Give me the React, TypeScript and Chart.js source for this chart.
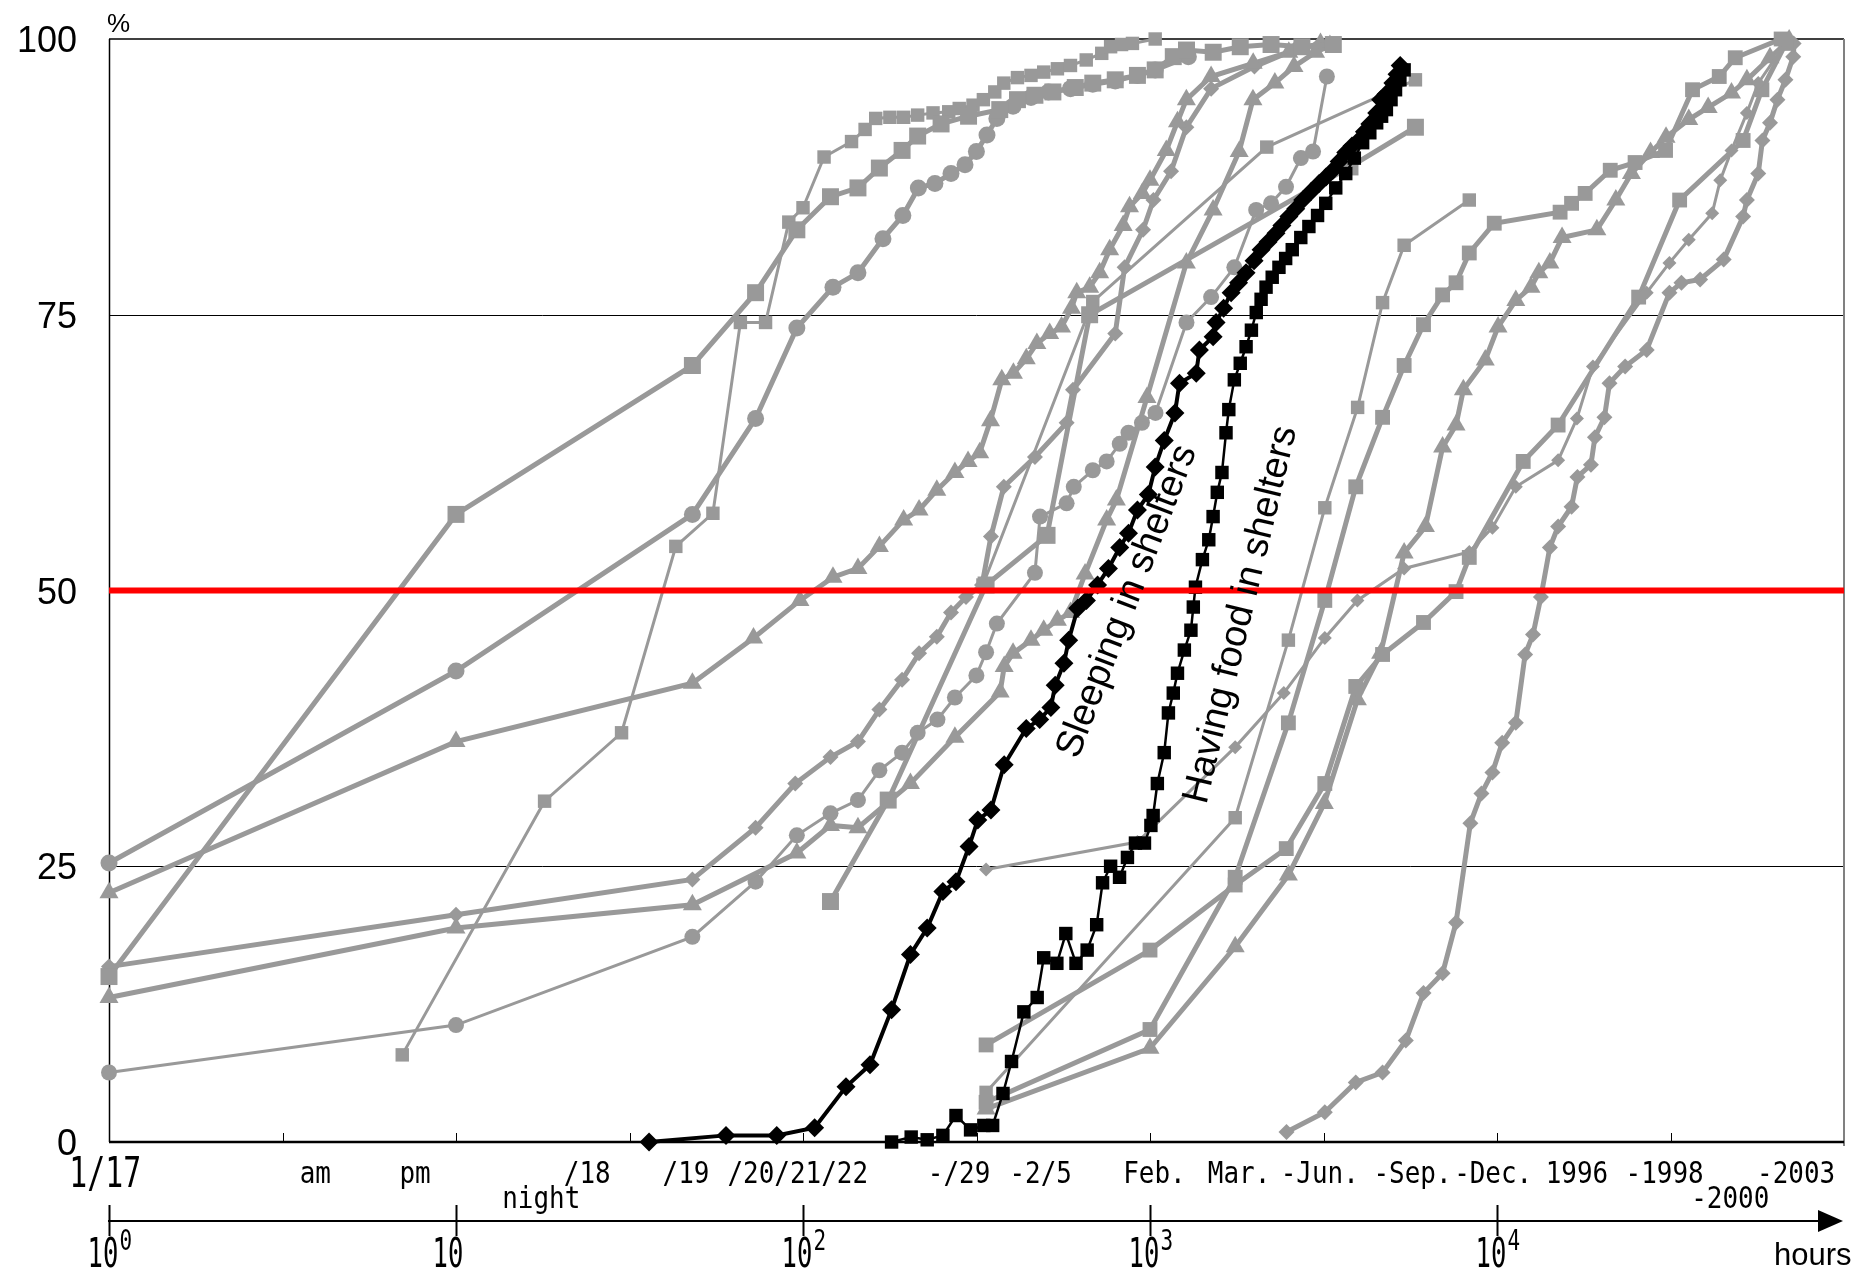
import React, { useEffect, useRef } from 'react';
import { Chart, registerables } from 'chart.js';

Chart.register(...registerables);

const W = 1856;
const H = 1275;

// ---------------- data: [hours, percent] ----------------
const sleepingInShelters: [number, number][] = [
  [36, 0], [60, 0.6], [84, 0.6], [108, 1.3], [133, 5.0], [156, 7.0], [180, 12.0], [204, 17.0],
  [228, 19.4], [253, 22.7], [276, 23.6], [301, 26.8], [319, 29.2], [348, 30.1], [380, 34.2],
  [440, 37.5], [481, 38.3], [518, 39.4], [533, 41.4], [565, 43.4], [583, 45.5], [619, 48.4],
  [656, 49.1], [706, 50.5], [759, 52.0], [818, 53.9], [867, 55.2], [920, 57.3], [989, 58.7],
  [1035, 61.2], [1099, 63.6], [1180, 66.1], [1216, 68.8], [1359, 69.7], [1388, 71.8], [1520, 73.0],
  [1550, 74.3], [1630, 75.6], [1713, 77.0], [1800, 77.9], [1892, 78.8], [1995, 79.9], [2090, 80.9],
  [2188, 81.6], [2307, 82.4], [2399, 83.1], [2513, 83.9], [2630, 84.6], [2754, 85.4], [2917, 86.2],
  [3070, 86.9], [3215, 87.5], [3365, 88.1], [3508, 88.9], [3665, 89.7], [3820, 90.3], [3990, 90.8],
  [4150, 91.6], [4300, 92.3], [4500, 93.3], [4620, 94.5], [4786, 95.0], [5010, 96.0], [5150, 96.8],
  [5260, 97.6],
];

const havingFoodInShelters: [number, number][] = [
  [180, 0], [205, 0.45], [228, 0.2], [253, 0.6], [276, 2.4], [304, 1.1], [332, 1.5], [352, 1.5],
  [377, 4.4], [399, 7.3], [433, 11.8], [473, 13.1], [494, 16.7], [539, 16.2], [572, 18.9],
  [612, 16.2], [659, 17.4], [702, 19.7], [730, 23.5], [770, 25.0], [817, 24.0], [861, 25.8],
  [908, 27.1], [964, 27.1], [1006, 28.7], [1021, 29.6], [1050, 32.5], [1099, 35.3], [1130, 38.9],
  [1167, 40.7], [1200, 42.5], [1256, 44.6], [1312, 46.4], [1333, 48.5], [1352, 50.3], [1416, 52.8],
  [1477, 54.6], [1520, 56.7], [1563, 58.9], [1612, 60.7], [1656, 64.3], [1687, 66.4], [1750, 69.1],
  [1820, 70.6], [1892, 72.1], [1960, 73.6], [2024, 75.2], [2090, 76.4], [2160, 77.5], [2250, 78.4],
  [2353, 79.3], [2460, 80.1], [2570, 80.9], [2720, 82.0], [2870, 83.0], [3040, 84.0], [3210, 85.1],
  [3430, 86.5], [3665, 87.8], [3880, 89.2], [4100, 90.6], [4300, 91.5], [4500, 92.4], [4650, 93.0],
  [4800, 93.6], [4950, 94.5], [5100, 95.4], [5250, 96.3], [5400, 97.2],
];

const graySquareA: [number, number][] = [
  [1, 15.0], [10, 56.9], [48, 70.4], [73, 77.0], [96, 82.7], [120, 85.7], [144, 86.5], [166, 88.3],
  [193, 89.9], [214, 91.2], [250, 92.3], [300, 93.0], [369, 93.6], [415, 94.5], [466, 94.9],
  [525, 95.2], [609, 95.6], [684, 96.0], [794, 96.3], [920, 96.7], [1035, 97.2], [1167, 98.4],
  [1274, 99.0], [1521, 98.8], [1820, 99.3], [2233, 99.5], [2740, 99.3], [3375, 99.5],
];

const graySquareB: [number, number][] = [
  [7, 7.9], [18, 30.9], [30, 37.1], [43, 54.0], [55, 57.0], [66, 74.3], [78, 74.3], [91, 83.4],
  [100, 84.7], [115, 89.3], [138, 90.7], [151, 91.8], [162, 92.8], [178, 92.9], [195, 92.9],
  [214, 93.1], [237, 93.3], [263, 93.4], [282, 93.7], [309, 94.0], [331, 94.5], [357, 95.2],
  [379, 96.0], [415, 96.5], [454, 96.7], [494, 97.0], [541, 97.3], [590, 97.6], [655, 98.1],
  [726, 98.7], [770, 99.3], [828, 99.5], [890, 99.6], [1035, 100],
];

const grayCircleC: [number, number][] = [
  [1, 25.3], [10, 42.7], [48, 56.9], [73, 65.6], [96, 73.8], [122, 77.5], [144, 78.8], [170, 81.9],
  [194, 84.0], [215, 86.5], [240, 86.9], [267, 87.8], [293, 88.6], [316, 89.8], [339, 91.3],
  [362, 92.8], [403, 93.9], [454, 94.7], [510, 95.2], [590, 95.5], [684, 95.9], [794, 96.2],
  [920, 96.7], [1035, 97.2], [1290, 98.4],
];

const grayTriangleD: [number, number][] = [
  [1, 22.6], [10, 36.3], [48, 41.6], [72, 45.7], [98, 49.1], [122, 51.2], [144, 52.0], [166, 54.0],
  [195, 56.4], [216, 57.3], [243, 59.1], [274, 60.7], [299, 61.7], [323, 62.5], [347, 65.4],
  [374, 69.1], [404, 69.7], [440, 71.0], [472, 72.4], [514, 73.3], [556, 73.9], [594, 75.6],
  [615, 77.0], [670, 77.5], [716, 78.8], [765, 80.9], [837, 83.1], [873, 84.8], [950, 86.0],
  [1000, 87.2], [1114, 89.9], [1200, 92.5], [1273, 94.5], [1500, 96.6], [1983, 97.8],
  [2512, 98.8], [3100, 99.6],
];

const grayDiamondE: [number, number][] = [
  [1, 15.9], [10, 20.6], [48, 23.8], [73, 28.5], [95, 32.5], [120, 34.9], [144, 36.3], [166, 39.2],
  [193, 41.9], [216, 44.3], [243, 45.8], [267, 48.0], [295, 49.4], [328, 50.5], [348, 54.9],
  [379, 59.4], [466, 62.1], [575, 65.2], [600, 68.2], [794, 73.3], [845, 79.3], [955, 82.7],
  [1023, 85.4], [1150, 88.0], [1273, 92.0], [1500, 95.5], [2000, 97.5], [2600, 99.0], [3100, 99.6],
];

const grayTriangleF: [number, number][] = [
  [1, 13.1], [10, 19.4], [48, 21.5], [96, 26.2], [120, 28.7], [144, 28.5], [204, 32.5],
  [274, 36.7], [370, 40.8], [380, 43.1], [403, 44.3], [454, 45.5], [494, 46.4], [541, 47.3],
  [590, 48.0], [650, 51.5], [750, 56.4], [800, 58.2], [980, 67.5], [1273, 79.7], [1520, 84.5],
  [1807, 89.8], [1980, 94.5], [2290, 96.0], [2600, 97.5], [3000, 98.8], [3300, 99.4],
];

const grayCircleG: [number, number][] = [
  [1, 6.3], [10, 10.6], [48, 18.6], [73, 23.6], [96, 27.8], [120, 29.8], [144, 31.0], [166, 33.7],
  [193, 35.3], [214, 37.1], [244, 38.3], [274, 40.3], [316, 42.3], [337, 44.4], [362, 47.0],
  [466, 51.6], [482, 56.7], [575, 57.9], [603, 59.4], [684, 60.9], [750, 61.7], [818, 63.3],
  [867, 64.3], [948, 65.2], [1037, 66.1], [1274, 74.3], [1500, 76.6], [1750, 79.3], [2023, 84.5],
  [2233, 85.1], [2466, 86.6], [2722, 89.2], [2950, 89.8], [3234, 96.6],
];

const graySquareH: [number, number][] = [
  [120, 21.8], [176, 31.0], [337, 50.5], [505, 55.0], [670, 75.0], [3770, 88.4], [5820, 92.0],
];

const grayDiamondI: [number, number][] = [
  [337, 24.7], [920, 27.2], [1760, 35.8], [2430, 40.7], [3190, 45.7], [3960, 49.1], [5400, 52.0],
  [8320, 53.5], [9700, 55.7], [11330, 59.4], [15000, 61.8], [17000, 65.6], [18900, 70.3],
  [27000, 77.0], [31400, 79.7], [35700, 81.8], [41700, 84.2], [44000, 87.2], [47400, 89.9],
  [52500, 93.3], [56600, 96.0], [67800, 99.6],
];

const graySquareJ: [number, number][] = [
  [337, 8.8], [1000, 17.4], [1760, 23.3], [2470, 26.6], [3190, 32.5], [3917, 41.3], [4680, 44.2],
  [6140, 47.1], [7620, 49.9], [8320, 53.0], [11900, 61.7], [15000, 65.0], [25600, 76.6],
  [33600, 85.4], [51200, 90.8], [58000, 95.4], [68000, 99.6],
];

const graySquareK: [number, number][] = [
  [337, 3.6], [1000, 10.2], [1760, 24.0], [2505, 38.0], [3190, 49.1], [3917, 59.4], [4680, 65.7],
  [5400, 70.4], [6140, 74.1], [6970, 76.8], [7620, 77.9], [8320, 80.6], [9820, 83.3],
  [15200, 84.3], [16400, 85.1], [17950, 86.0], [21200, 88.1], [25000, 88.8], [30600, 89.9],
  [36600, 95.4], [43700, 96.6], [48600, 98.3], [65900, 100],
];

const graySquareM: [number, number][] = [
  [337, 4.5], [1760, 29.4], [2505, 45.5], [3190, 57.5], [3966, 66.6], [4680, 76.1], [5400, 81.3],
  [8320, 85.4],
];

const grayTriangleT: [number, number][] = [
  [337, 3.0], [1000, 8.5], [1760, 17.7], [2505, 24.2], [3180, 30.7], [3960, 40.1], [4620, 44.3],
  [5400, 53.4], [6220, 55.8], [6970, 63.0], [7620, 65.0], [8000, 68.2], [9250, 70.9],
  [10070, 73.9], [11330, 76.3], [12530, 77.5], [13200, 78.8], [14200, 79.7], [15400, 82.0],
  [19400, 82.7], [22000, 85.4], [24400, 87.8], [27700, 89.7], [30700, 91.1], [35700, 92.7],
  [40600, 93.8], [47400, 95.1], [52500, 96.3], [61200, 98.3], [69500, 99.9],
];

const grayDiamondR: [number, number][] = [
  [2474, 0.9], [3190, 2.7], [3917, 5.4], [4680, 6.3], [5460, 9.2], [6140, 13.5], [6970, 15.3],
  [7620, 19.9], [8380, 28.9], [9020, 31.6], [9700, 33.5], [10350, 36.2], [11330, 38.0],
  [12050, 44.2], [12700, 46.0], [13380, 49.4], [14200, 53.9], [15000, 55.8], [16400, 57.6],
  [17050, 60.3], [18650, 61.4], [19150, 63.9], [20400, 65.7], [21100, 68.8], [23400, 70.3],
  [27000, 71.8], [31400, 77.0], [34000, 77.9], [38500, 78.2], [45000, 80.0], [51200, 83.9],
  [52500, 85.4], [56600, 87.8], [58200, 90.8], [61200, 92.4], [64300, 94.5], [67800, 96.3],
  [71400, 98.4], [71600, 99.6],
];

const graySquareN: [number, number][] = [
  [330, 50.5], [684, 76.2], [2170, 90.2], [5820, 96.3],
];

// axis values and tick labels
const yTickValues = [0, 25, 50, 75, 100];
const yTickLabels = ['0', '25', '50', '75', '100'];
const dateLabels = ['am', 'pm', '/18', '/19', '/20/21/22', '-/29', '-2/5', 'Feb.', 'Mar.', '-Jun.', '-Sep.', '-Dec.', '1996', '-1998', '-2003'];
const dateLabelHours = [3.93, 7.62, 23.9, 46.0, 96.6, 281.6, 484, 1030, 1806, 3085, 5706, 9750, 17000, 30420, 72800];
const startLabel = '1/17';
const lowerLabels = ['night', '-2000'];
const lowerLabelHours = [17.6, 47000];
const hourDecades = [1, 10, 100, 1000, 10000];
const hourExponents = ['0', '', '2', '3', '4'];
const halfDecadeTicks = [3.1623, 10, 31.623, 100, 316.23, 1000, 3162.3, 10000, 31623];

// ---------------- styles ----------------
const GRAY = '#999999';
type Style = { color: string; line: number; marker: string; size: number };
const seriesStyles: Record<string, Style> = {
  sleep: { color: '#000000', line: 4, marker: 'rectRot', size: 9.5 },
  food: { color: '#000000', line: 2.5, marker: 'rect', size: 9.5 },
  bigSquare: { color: GRAY, line: 5, marker: 'rect', size: 12 },
  square: { color: GRAY, line: 5, marker: 'rect', size: 10.5 },
  thinSquare: { color: GRAY, line: 3, marker: 'rect', size: 9.5 },
  circle: { color: GRAY, line: 5, marker: 'circle', size: 8.5 },
  thinCircle: { color: GRAY, line: 3, marker: 'circle', size: 8 },
  triangle: { color: GRAY, line: 5, marker: 'triangle', size: 11 },
  diamond: { color: GRAY, line: 5, marker: 'rectRot', size: 8 },
  thinDiamond: { color: GRAY, line: 3, marker: 'rectRot', size: 7 },
};

const seriesList: [string, [number, number][], string][] = [
  ['Sleeping in shelters', sleepingInShelters, 'sleep'],
  ['Having food in shelters', havingFoodInShelters, 'food'],
  ['A', graySquareA, 'bigSquare'],
  ['B', graySquareB, 'thinSquare'],
  ['C', grayCircleC, 'circle'],
  ['D', grayTriangleD, 'triangle'],
  ['E', grayDiamondE, 'diamond'],
  ['F', grayTriangleF, 'triangle'],
  ['G', grayCircleG, 'thinCircle'],
  ['H', graySquareH, 'bigSquare'],
  ['I', grayDiamondI, 'thinDiamond'],
  ['J', graySquareJ, 'square'],
  ['K', graySquareK, 'square'],
  ['M', graySquareM, 'thinSquare'],
  ['T', grayTriangleT, 'triangle'],
  ['R', grayDiamondR, 'diamond'],
  ['N', graySquareN, 'thinSquare'],
];

const MONO = '"DejaVu Sans Mono", "Liberation Mono", monospace';
const SANS = '"Liberation Sans", Arial, sans-serif';

function scaledText(ctx: CanvasRenderingContext2D, s: string, x: number, y: number, font: string, sx: number, align: CanvasTextAlign = 'center') {
  ctx.save();
  ctx.font = font;
  ctx.textAlign = align;
  ctx.textBaseline = 'alphabetic';
  ctx.translate(x, y);
  ctx.scale(sx, 1);
  ctx.fillText(s, 0, 0);
  ctx.restore();
}

const framePlugin = {
  id: 'frame',
  beforeDatasetsDraw(chart: any) {
    const { ctx, chartArea: a, scales } = chart;
    const x = scales.x, y = scales.y;
    ctx.save();
    ctx.strokeStyle = '#000';
    ctx.lineWidth = 1;
    for (const v of [25, 75]) {
      const py = Math.round(y.getPixelForValue(v)) + 0.5;
      ctx.beginPath(); ctx.moveTo(a.left, py); ctx.lineTo(a.right, py); ctx.stroke();
    }
    ctx.lineWidth = 1.5;
    const top = y.getPixelForValue(100);
    ctx.beginPath(); ctx.moveTo(a.left, top); ctx.lineTo(a.right, top); ctx.stroke();
    ctx.beginPath(); ctx.moveTo(a.left + 0.5, a.top); ctx.lineTo(a.left + 0.5, a.bottom); ctx.stroke();
    ctx.strokeStyle = '#808080';
    ctx.lineWidth = 2;
    ctx.beginPath(); ctx.moveTo(a.right, a.top); ctx.lineTo(a.right, a.bottom + 4); ctx.stroke();
    ctx.strokeStyle = '#000';
    ctx.lineWidth = 2.5;
    const bot = y.getPixelForValue(0);
    ctx.beginPath(); ctx.moveTo(a.left, bot); ctx.lineTo(a.right, bot); ctx.stroke();
    ctx.lineWidth = 1;
    for (const t of halfDecadeTicks) {
      const px = Math.round(x.getPixelForValue(t)) + 0.5;
      ctx.beginPath(); ctx.moveTo(px, bot); ctx.lineTo(px, bot - 9); ctx.stroke();
    }
    ctx.restore();
  },
  afterDatasetsDraw(chart: any) {
    const { ctx, chartArea: a, scales } = chart;
    const x = scales.x, y = scales.y;
    ctx.save();
    ctx.strokeStyle = '#ff0000';
    ctx.lineWidth = 6;
    const py = y.getPixelForValue(50);
    ctx.beginPath(); ctx.moveTo(a.left, py); ctx.lineTo(a.right, py); ctx.stroke();

    ctx.fillStyle = '#000';
    ctx.font = '38px ' + SANS;
    ctx.textAlign = 'center';
    ctx.textBaseline = 'middle';
    const rot = (s: string, hx: number, pv: number, deg: number) => {
      ctx.save();
      ctx.translate(x.getPixelForValue(hx), y.getPixelForValue(pv));
      ctx.rotate((deg * Math.PI) / 180);
      ctx.fillText(s, 0, 0);
      ctx.restore();
    };
    rot('Sleeping in shelters', 860, 49.0, -69);
    rot('Having food in shelters', 1830, 47.8, -76.5);
    ctx.restore();
  },
  afterDraw(chart: any) {
    const { ctx, chartArea: a, scales } = chart;
    const x = scales.x, y = scales.y;
    ctx.save();
    ctx.fillStyle = '#000';
    ctx.font = '36px ' + SANS;
    ctx.textAlign = 'right';
    ctx.textBaseline = 'alphabetic';
    yTickValues.forEach((v, i) => {
      ctx.fillText(yTickLabels[i], a.left - 32, y.getPixelForValue(v) + 13);
    });
    ctx.font = '26px ' + SANS;
    ctx.textAlign = 'left';
    ctx.fillText('%', a.left - 2, 32);

    const dateFont = '30px ' + MONO;
    const base = a.bottom + 41;
    scaledText(ctx, startLabel, x.getPixelForValue(0.975), base + 4, '42px ' + MONO, 0.71);
    dateLabels.forEach((s, i) => scaledText(ctx, s, x.getPixelForValue(dateLabelHours[i]), base, dateFont, 0.865));
    lowerLabels.forEach((s, i) => scaledText(ctx, s, x.getPixelForValue(lowerLabelHours[i]), base + 25, dateFont, 0.865));

    const ay = a.bottom + 79;
    ctx.strokeStyle = '#000';
    ctx.lineWidth = 2;
    ctx.beginPath(); ctx.moveTo(a.left - 1, ay); ctx.lineTo(1825, ay); ctx.stroke();
    ctx.beginPath(); ctx.moveTo(1818, ay - 11); ctx.lineTo(1843, ay); ctx.lineTo(1818, ay + 11); ctx.closePath(); ctx.fill();
    hourDecades.forEach((h, i) => {
      const px = Math.round(x.getPixelForValue(h)) + 0.5;
      ctx.beginPath(); ctx.moveTo(px, ay - 16); ctx.lineTo(px, ay + 15); ctx.stroke();
      const mainW = 31, supW = hourExponents[i] ? 13 : 0;
      const left = hourExponents[i] ? px - (mainW + supW) / 2 : px - 24;
      scaledText(ctx, '10', left, a.bottom + 125, '40px ' + MONO, 0.64, 'left');
      if (hourExponents[i]) scaledText(ctx, hourExponents[i], left + mainW + 1, a.bottom + 108, '28px ' + MONO, 0.75, 'left');
    });
    ctx.font = '31px ' + SANS;
    ctx.textAlign = 'left';
    ctx.fillText('hours', 1774, a.bottom + 123);
    ctx.restore();
  },
};

export default function App() {
  const ref = useRef<HTMLCanvasElement>(null);
  useEffect(() => {
    if (!ref.current) return;
    const datasets = seriesList.map(([label, pts, st]) => {
      const s = seriesStyles[st];
      return {
        label,
        data: pts.map(([h, p]) => ({ x: h, y: p })),
        borderColor: s.color,
        backgroundColor: s.color,
        borderWidth: s.line,
        pointStyle: s.marker,
        pointRadius: s.size,
        pointBorderWidth: 0,
        pointBackgroundColor: s.color,
        pointBorderColor: s.color,
        tension: 0,
        fill: false,
        clip: false as any,
      };
    });
    const chart = new Chart(ref.current, {
      type: 'line',
      data: { datasets: datasets as any },
      options: {
        animation: false,
        responsive: false,
        maintainAspectRatio: false,
        devicePixelRatio: 1,
        events: [],
        layout: { padding: { left: 109, top: 39, right: 6, bottom: 133 } },
        plugins: { legend: { display: false }, tooltip: { enabled: false } },
        scales: {
          x: { type: 'logarithmic', min: 1, max: 100000, display: false },
          y: { type: 'linear', min: 0, max: 100, display: false },
        },
      },
      plugins: [framePlugin],
    });
    return () => chart.destroy();
  }, []);
  return (
    <div style={{ position: 'absolute', left: 0, top: 0, width: W, height: H, background: '#ffffff' }}>
      <canvas ref={ref} width={W} height={H} style={{ width: W, height: H, display: 'block' }} />
    </div>
  );
}
